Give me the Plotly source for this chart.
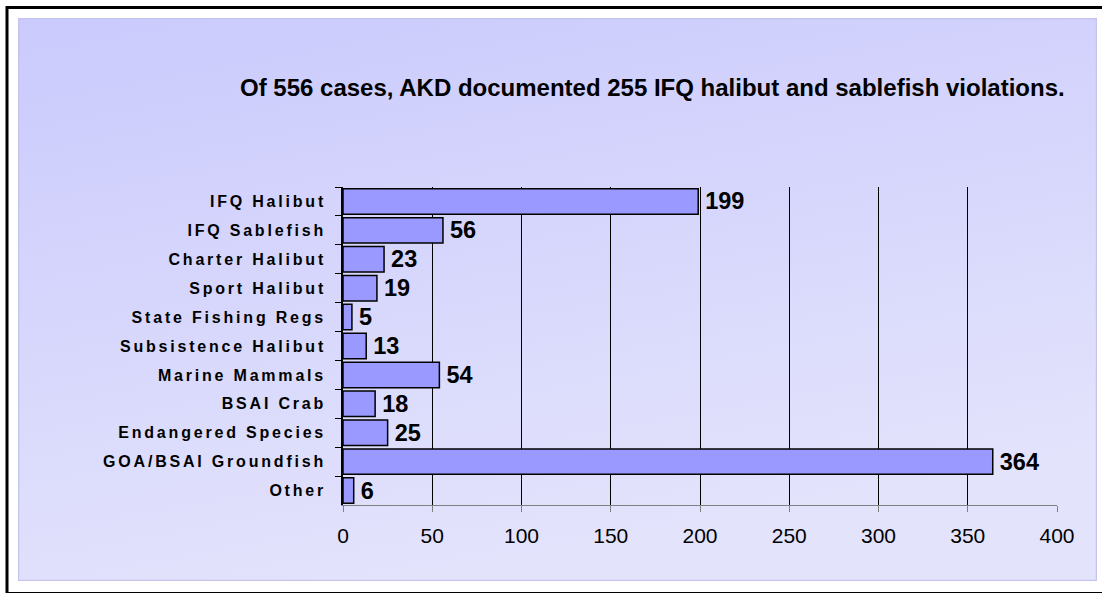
import base64
import plotly.graph_objects as go

categories = ["IFQ Halibut", "IFQ Sablefish", "Charter Halibut", "Sport Halibut",
              "State Fishing Regs", "Subsistence Halibut", "Marine Mammals",
              "BSAI Crab", "Endangered Species", "GOA/BSAI Groundfish", "Other"]
cases = [199, 56, 23, 19, 5, 13, 54, 18, 25, 364, 6]
x_ticks = [0, 50, 100, 150, 200, 250, 300, 350, 400]
title_text = "Of 556 cases, AKD documented 255 IFQ halibut and sablefish violations."

W, H = 1102, 593
L, R, T, B = 343, 1057, 187, 505  # plot area in pixels

def px(x):
    return (x - L) / (R - L)

def py(y):
    return (B - y) / (B - T)

FONT = "Arial, 'Liberation Sans', sans-serif"

fig = go.Figure(go.Bar(
    y=categories, x=cases, orientation="h",
    marker=dict(color="#9999FF", line=dict(color="#000000", width=1.5)),
    text=[str(v) for v in cases], textposition="outside",
    textfont=dict(family=FONT, size=23.5, color="#000000", weight="bold"),
    constraintext="none", cliponaxis=False,
))

svg = ('<svg xmlns="http://www.w3.org/2000/svg" width="1079" height="563">'
       '<defs><linearGradient id="g" x1="0" y1="0" x2="0.35" y2="1">'
       '<stop offset="0" stop-color="#CACAFD"/><stop offset="1" stop-color="#E3E3FC"/>'
       '</linearGradient></defs>'
       '<rect width="1079" height="563" fill="url(#g)"/>'
       '<rect x="0.5" y="0.5" width="1078" height="562" fill="none" stroke="#C4C4EE" stroke-width="1.5"/>'
       '</svg>')
src = "data:image/svg+xml;base64," + base64.b64encode(svg.encode()).decode()

fig.update_layout(
    width=W, height=H,
    margin=dict(l=L, r=W - R, t=T, b=H - B),
    paper_bgcolor="#FFFFFF", plot_bgcolor="#FFFFFF",
    showlegend=False, bargap=0.12,
    font=dict(family=FONT, color="#000000"),
    images=[dict(source=src, xref="paper", yref="paper",
                 x=px(18), y=py(18), sizex=px(1097) - px(18), sizey=py(18) - py(581),
                 xanchor="left", yanchor="top", sizing="stretch", layer="below")],
    shapes=[dict(type="rect", xref="paper", yref="paper",
                 x0=px(7), x1=px(1105), y0=py(593.5), y1=py(7.5),
                 line=dict(color="#000000", width=3), fillcolor="rgba(0,0,0,0)")],
    annotations=[dict(text=title_text, xref="paper", yref="paper",
                      x=px(652), y=py(87), xanchor="center", yanchor="middle",
                      showarrow=False,
                      font=dict(family=FONT, size=24, color="#000000", weight="bold"))],
    xaxis=dict(range=[0, 400], tickvals=x_ticks, ticktext=[str(v) for v in x_ticks],
               showgrid=True, gridcolor="#000000", gridwidth=1,
               showline=True, linecolor="#808080", linewidth=1,
               ticks="outside", ticklen=6, tickcolor="#808080",
               tickfont=dict(family=FONT, size=21, color="#000000"),
               ticklabelstandoff=6, zeroline=False, fixedrange=True),
    yaxis=dict(autorange="reversed", showline=True, linecolor="#000000", linewidth=1.5,
               ticks="outside", ticklen=6, tickcolor="#000000", tickson="boundaries",
               tickfont=dict(family=FONT, size=16, color="#000000", weight="bold"),
               ticklabelstandoff=12, showgrid=False, fixedrange=True),
)

post = ("var s=document.createElement('style');"
        "s.textContent='body{margin:0;} .ytick text{letter-spacing:2.8px;}';"
        "document.head.appendChild(s);"
        "document.querySelectorAll('.bartext').forEach(function(t){t.setAttribute('dx','4');});")
fig.write_html("out.html", post_script=post, config={"displayModeBar": False})
